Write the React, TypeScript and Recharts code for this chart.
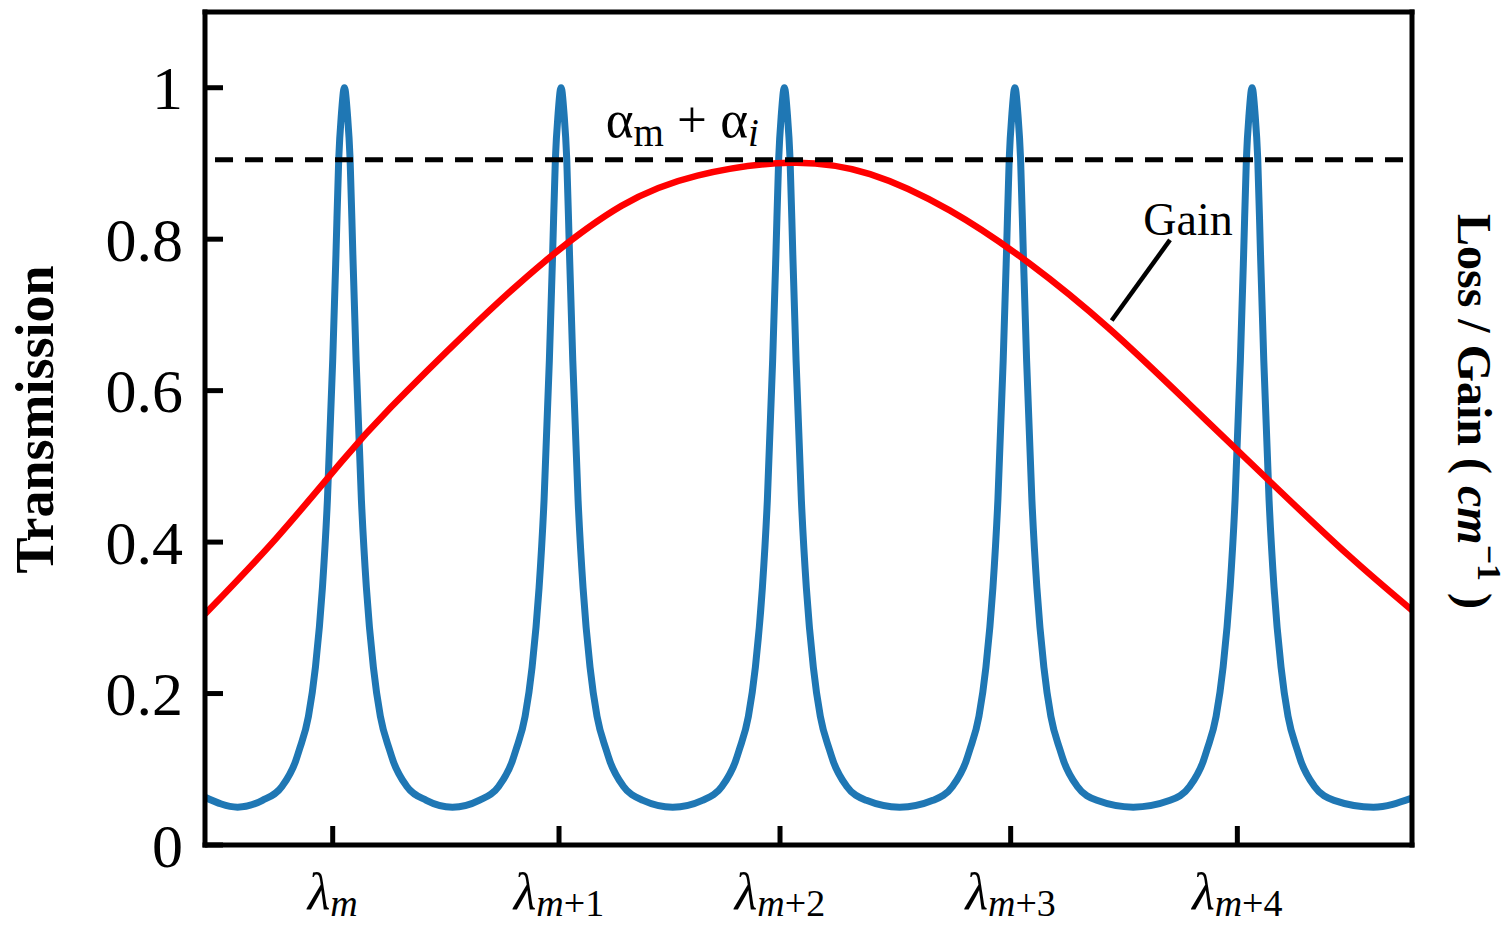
import React from "react";
import { LineChart, Line, XAxis, YAxis, ReferenceLine, ReferenceDot } from "recharts";

// x runs in arbitrary wavelength units, 0..100 across the frame
const lambdaTicks = [10.58, 29.33, 47.64, 66.75, 85.53];
const lambdaSuffix = ["", "+1", "+2", "+3", "+4"];

const transmissionTicks = [0, 0.2, 0.4, 0.6, 0.8, 1];
const transmissionTickLabels = ["0", "0.2", "0.4", "0.6", "0.8", "1"];

// transmission resonances: centres and one peak profile
const peakCentres = [11.55, 29.5, 48.0, 67.1, 86.75];
const peakOffsets = [0, 0.25, 0.47, 0.7, 0.97, 1.41, 1.82, 2.4, 2.98, 3.73, 4.06, 5.14, 6.79];
const peakShape = [1.0, 0.965, 0.906, 0.78, 0.64, 0.455, 0.34, 0.235, 0.17, 0.126, 0.11, 0.078, 0.059];
const troughX = [2.7, 20.5, 38.75, 57.55, 76.9, 96.8];
const troughY = [0.05, 0.05, 0.05, 0.05, 0.05, 0.05];
const edgeX = [0, 100];
const edgeY = [0.063, 0.062];

// gain curve
const gainX = [0, 5.9, 11.3, 15.4, 21.8, 28.1, 34.5, 40.8, 48.5, 55.1, 61.7, 68.3, 74.9, 81.5, 88.1, 94.7, 100];
const gainY = [0.305, 0.405, 0.506, 0.578, 0.679, 0.77, 0.844, 0.884, 0.901, 0.886, 0.838, 0.768, 0.682, 0.583, 0.482, 0.383, 0.31];

const lossLevel = 0.905;

const transmissionData = [
  ...edgeX.map((x, i) => ({ x, y: edgeY[i] })),
  ...troughX.map((x, i) => ({ x, y: troughY[i] })),
  ...peakCentres.flatMap((c) =>
    peakOffsets.flatMap((d, i) =>
      d === 0
        ? [{ x: c, y: peakShape[i] }]
        : [
            { x: c - d, y: peakShape[i] },
            { x: c + d, y: peakShape[i] },
          ]
    )
  ),
].sort((a, b) => a.x - b.x);

const gainData = gainX.map((x, i) => ({ x, y: gainY[i] }));

const SERIF = "'Liberation Serif', 'Times New Roman', serif";
const AXIS = { stroke: "#000", strokeWidth: 5, strokeLinecap: "square" as const };

function YTick({ x, y, payload }: any) {
  const idx = transmissionTicks.indexOf(payload.value);
  return (
    <g>
      <line x1={x} x2={x + 18} y1={y} y2={y} stroke="#000" strokeWidth={5} />
      <text x={x - 22} y={y} dy="0.35em" textAnchor="end" fontFamily={SERIF} fontSize={62} fill="#000">
        {transmissionTickLabels[idx]}
      </text>
    </g>
  );
}

function XTick({ x, y, payload }: any) {
  const idx = lambdaTicks.indexOf(payload.value);
  return (
    <g>
      <line x1={x} x2={x} y1={y} y2={y - 19} stroke="#000" strokeWidth={5} />
      <text x={x} y={y + 64} textAnchor="middle" fontFamily={SERIF} fill="#000">
        <tspan fontStyle="italic" fontSize={52}>λ</tspan>
        <tspan fontStyle="italic" fontSize={38} dy={7}>m</tspan>
        {lambdaSuffix[idx] && <tspan fontSize={38}>{lambdaSuffix[idx]}</tspan>}
      </text>
    </g>
  );
}

function LeftTitle({ viewBox }: any) {
  const x = 53;
  const y = viewBox.y + viewBox.height / 2 - 9;
  return (
    <text x={x} y={y} transform={`rotate(-90, ${x}, ${y})`} textAnchor="middle" fontFamily={SERIF} fontWeight="bold" fontSize={54} fill="#000">
      Transmission
    </text>
  );
}

function RightTitle({ viewBox }: any) {
  const x = viewBox.x + 46;
  const y = viewBox.y + viewBox.height / 2 - 17;
  return (
    <text x={x} y={y} transform={`rotate(90, ${x}, ${y})`} textAnchor="middle" fontFamily={SERIF} fontWeight="bold" fontSize={48} fill="#000">
      <tspan>Loss / Gain ( </tspan>
      <tspan fontStyle="italic">cm</tspan>
      <tspan fontSize={34} dy={-20}>−1</tspan>
      <tspan dy={20}> )</tspan>
    </text>
  );
}

export default function App() {
  return (
    <div style={{ position: "absolute", left: 0, top: 0, width: 1508, height: 926 }}>
      <LineChart width={1508} height={926} margin={{ top: 12, right: 0, left: 0, bottom: 0 }}>
        <XAxis
          type="number"
          dataKey="x"
          domain={[0, 100]}
          allowDataOverflow
          ticks={lambdaTicks}
          interval={0}
          height={81}
          tickSize={0}
          tickMargin={0}
          tickLine={false}
          axisLine={AXIS}
          tick={<XTick />}
        />
        <YAxis
          yAxisId="left"
          type="number"
          domain={[0, 1.1]}
          allowDataOverflow
          ticks={transmissionTicks}
          interval={0}
          width={205}
          tickSize={0}
          tickMargin={0}
          tickLine={false}
          axisLine={AXIS}
          tick={<YTick />}
          label={<LeftTitle />}
        />
        <YAxis
          yAxisId="right"
          orientation="right"
          type="number"
          domain={[0, 1.1]}
          allowDataOverflow
          width={96}
          tick={false}
          tickLine={false}
          axisLine={AXIS}
          label={<RightTitle />}
        />
        <ReferenceLine yAxisId="left" y={1.1} stroke="#000" strokeWidth={5} strokeLinecap="square" />
        <Line
          yAxisId="left"
          data={transmissionData}
          dataKey="y"
          type="monotone"
          stroke="#1f77b4"
          strokeWidth={7}
          dot={false}
          activeDot={false}
          isAnimationActive={false}
        />
        <Line
          yAxisId="right"
          data={gainData}
          dataKey="y"
          type="natural"
          stroke="#ff0000"
          strokeWidth={6.5}
          dot={false}
          activeDot={false}
          isAnimationActive={false}
        />
        <ReferenceLine
          yAxisId="left"
          segment={[
            { x: 0.83, y: lossLevel },
            { x: 100, y: lossLevel },
          ]}
          stroke="#000"
          strokeWidth={5}
          strokeDasharray="18 12"
        />
        <ReferenceLine
          yAxisId="left"
          segment={[
            { x: 75.12, y: 0.6926 },
            { x: 79.95, y: 0.799 },
          ]}
          stroke="#000"
          strokeWidth={4.5}
        />
        <ReferenceDot
          yAxisId="left"
          x={33.2}
          y={0.935}
          r={0}
          ifOverflow="visible"
          shape={(p: any) => (
            <text x={p.cx} y={p.cy} fontFamily={SERIF} fontSize={53} fill="#000">
              <tspan>α</tspan>
              <tspan fontSize={39} dy={9}>m</tspan>
              <tspan dy={-9}> + α</tspan>
              <tspan fontSize={39} dy={9} fontStyle="italic">i</tspan>
            </text>
          )}
        />
        <ReferenceDot
          yAxisId="left"
          x={81.44}
          y={0.805}
          r={0}
          ifOverflow="visible"
          shape={(p: any) => (
            <text x={p.cx} y={p.cy} textAnchor="middle" fontFamily={SERIF} fontSize={46} fill="#000">
              Gain
            </text>
          )}
        />
      </LineChart>
    </div>
  );
}
